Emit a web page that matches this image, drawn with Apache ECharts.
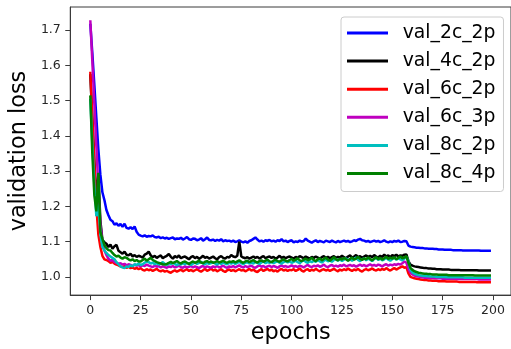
<!DOCTYPE html>
<html>
<head>
<meta charset="utf-8">
<script src="https://cdn.jsdelivr.net/npm/echarts@6/dist/echarts.min.js"></script>
<style>html,body{margin:0;padding:0;background:#fff}#c{width:511px;height:349px}</style>
</head>
<body>
<div id="c"></div>
<script>
const seriesNames = ['val_2c_2p','val_4c_2p','val_6c_2p','val_6c_3p','val_8c_2p','val_8c_4p'];
const xTicks = [0,25,50,75,100,125,150,175,200];
const yTicks = [1.0,1.1,1.2,1.3,1.4,1.5,1.6,1.7];

const val_2c_2p = [
1.718,1.635,1.545,1.452,1.362,1.29,1.24,1.218,1.19,1.175,
1.162,1.158,1.148,1.152,1.145,1.15,1.142,1.151,1.139,1.137,
1.141,1.136,1.143,1.128,1.12,1.117,1.115,1.118,1.114,1.116,
1.115,1.118,1.113,1.112,1.114,1.11,1.112,1.109,1.111,1.108,
1.11,1.112,1.107,1.109,1.108,1.111,1.106,1.109,1.113,1.107,
1.105,1.109,1.108,1.104,1.106,1.11,1.103,1.107,1.112,1.105,
1.104,1.106,1.102,1.105,1.103,1.107,1.101,1.104,1.102,1.103,
1.1,1.103,1.099,1.101,1.104,1.1,1.098,1.101,1.097,1.102,
1.104,1.108,1.112,1.106,1.101,1.103,1.1,1.104,1.102,1.105,
1.101,1.103,1.1,1.104,1.102,1.107,1.101,1.103,1.099,1.102,
1.104,1.098,1.101,1.099,1.103,1.1,1.102,1.109,1.103,1.1,
1.097,1.101,1.104,1.099,1.102,1.1,1.098,1.103,1.101,1.099,
1.103,1.1,1.098,1.102,1.099,1.101,1.103,1.1,1.102,1.099,
1.101,1.104,1.102,1.106,1.108,1.104,1.103,1.1,1.102,1.099,
1.101,1.103,1.1,1.102,1.099,1.101,1.104,1.1,1.098,1.101,
1.099,1.102,1.1,1.103,1.099,1.1,1.102,1.101,1.089,1.086,
1.085,1.084,1.083,1.083,1.082,1.082,1.081,1.081,1.08,1.08,
1.08,1.079,1.079,1.078,1.078,1.078,1.077,1.077,1.077,1.077,
1.076,1.076,1.076,1.076,1.076,1.075,1.075,1.075,1.075,1.075,
1.075,1.075,1.075,1.075,1.074,1.074,1.074,1.074,1.074,1.074
];
const val_4c_2p = [
1.575,1.45,1.33,1.22,1.29,1.16,1.105,1.098,1.094,1.085,
1.092,1.08,1.087,1.091,1.074,1.07,1.066,1.072,1.063,1.061,
1.066,1.058,1.062,1.057,1.06,1.058,1.055,1.063,1.066,1.072,
1.061,1.056,1.06,1.054,1.058,1.061,1.053,1.057,1.06,1.065,
1.057,1.052,1.059,1.055,1.061,1.053,1.056,1.058,1.054,1.05,
1.056,1.059,1.053,1.057,1.051,1.055,1.06,1.054,1.057,1.052,
1.055,1.058,1.053,1.05,1.056,1.059,1.054,1.052,1.057,1.055,
1.062,1.058,1.056,1.06,1.1,1.058,1.055,1.053,1.056,1.052,
1.055,1.058,1.054,1.057,1.052,1.056,1.059,1.053,1.056,1.058,
1.054,1.057,1.052,1.055,1.06,1.054,1.057,1.053,1.056,1.058,
1.055,1.052,1.057,1.054,1.059,1.056,1.053,1.058,1.055,1.052,
1.057,1.054,1.058,1.055,1.052,1.056,1.059,1.054,1.057,1.053,
1.056,1.059,1.054,1.057,1.055,1.06,1.056,1.053,1.058,1.061,
1.055,1.058,1.062,1.056,1.059,1.054,1.058,1.061,1.057,1.06,
1.056,1.062,1.058,1.055,1.06,1.057,1.063,1.058,1.061,1.056,
1.062,1.059,1.063,1.058,1.061,1.06,1.063,1.064,1.045,1.035,
1.032,1.03,1.029,1.028,1.027,1.026,1.025,1.025,1.024,1.024,
1.023,1.023,1.022,1.022,1.022,1.021,1.021,1.021,1.021,1.02,
1.02,1.02,1.02,1.02,1.019,1.019,1.019,1.019,1.019,1.019,
1.019,1.019,1.019,1.018,1.018,1.018,1.018,1.018,1.018,1.018
];
const val_6c_2p = [
1.582,1.45,1.32,1.2,1.12,1.085,1.06,1.05,1.048,1.045,
1.04,1.043,1.038,1.035,1.033,1.03,1.028,1.031,1.026,1.029,
1.025,1.027,1.023,1.026,1.022,1.025,1.02,1.018,1.022,1.019,
1.021,1.017,1.02,1.023,1.018,1.016,1.019,1.015,1.017,1.014,
1.012,1.016,1.019,1.015,1.018,1.021,1.016,1.019,1.022,1.017,
1.02,1.016,1.019,1.022,1.018,1.015,1.019,1.023,1.017,1.02,
1.024,1.018,1.021,1.016,1.019,1.022,1.017,1.014,1.019,1.021,
1.017,1.02,1.016,1.019,1.022,1.018,1.02,1.016,1.019,1.023,
1.018,1.021,1.016,1.014,1.019,1.022,1.017,1.02,1.023,1.018,
1.021,1.016,1.019,1.015,1.02,1.023,1.018,1.021,1.017,1.02,
1.019,1.022,1.017,1.02,1.024,1.018,1.015,1.02,1.022,1.017,
1.021,1.018,1.023,1.019,1.016,1.02,1.022,1.018,1.021,1.017,
1.02,1.023,1.019,1.016,1.021,1.018,1.022,1.019,1.024,1.02,
1.017,1.021,1.019,1.023,1.018,1.015,1.02,1.022,1.019,1.021,
1.024,1.02,1.018,1.022,1.019,1.023,1.02,1.025,1.021,1.018,
1.022,1.025,1.021,1.024,1.027,1.03,1.026,1.028,1.01,1.0,
0.998,0.996,0.995,0.994,0.993,0.992,0.991,0.991,0.99,0.99,
0.989,0.989,0.989,0.988,0.988,0.988,0.988,0.987,0.987,0.987,
0.987,0.987,0.987,0.986,0.986,0.986,0.986,0.986,0.986,0.986,
0.986,0.986,0.985,0.985,0.985,0.985,0.985,0.985,0.985,0.985
];
const val_6c_3p = [
1.728,1.612,1.49,1.37,1.255,1.15,1.1,1.075,1.062,1.052,
1.046,1.048,1.042,1.04,1.037,1.039,1.035,1.037,1.033,1.036,
1.034,1.031,1.035,1.032,1.034,1.03,1.033,1.031,1.035,1.032,
1.03,1.028,1.032,1.029,1.031,1.027,1.03,1.028,1.026,1.03,
1.028,1.031,1.027,1.029,1.032,1.028,1.026,1.03,1.027,1.029,
1.031,1.027,1.03,1.028,1.025,1.029,1.031,1.027,1.03,1.028,
1.026,1.03,1.028,1.031,1.027,1.029,1.032,1.028,1.026,1.03,
1.028,1.031,1.027,1.03,1.033,1.029,1.027,1.031,1.028,1.03,
1.032,1.028,1.026,1.03,1.033,1.029,1.031,1.027,1.03,1.032,
1.028,1.031,1.029,1.026,1.03,1.033,1.029,1.031,1.028,1.03,
1.033,1.029,1.031,1.028,1.032,1.03,1.027,1.031,1.034,1.03,
1.028,1.032,1.03,1.033,1.029,1.031,1.035,1.03,1.028,1.032,
1.034,1.03,1.032,1.029,1.033,1.031,1.035,1.03,1.032,1.034,
1.031,1.033,1.029,1.032,1.035,1.031,1.034,1.03,1.033,1.036,
1.032,1.034,1.031,1.035,1.033,1.03,1.034,1.036,1.032,1.035,
1.033,1.036,1.034,1.037,1.035,1.039,1.044,1.04,1.022,1.012,
1.007,1.004,1.002,1.001,1.0,0.999,0.998,0.998,0.997,0.997,
0.997,0.996,0.996,0.996,0.996,0.995,0.995,0.995,0.995,0.995,
0.995,0.995,0.994,0.994,0.994,0.994,0.994,0.994,0.994,0.994,
0.994,0.994,0.994,0.993,0.993,0.993,0.993,0.993,0.993,0.993
];
const val_8c_2p = [
1.505,1.38,1.262,1.172,1.205,1.12,1.085,1.075,1.068,1.062,
1.058,1.054,1.05,1.042,1.036,1.03,1.027,1.025,1.03,1.028,
1.033,1.03,1.036,1.034,1.038,1.034,1.036,1.04,1.044,1.042,
1.038,1.041,1.036,1.039,1.035,1.038,1.042,1.037,1.034,1.039,
1.036,1.04,1.037,1.033,1.038,1.035,1.039,1.036,1.04,1.037,
1.034,1.038,1.041,1.037,1.04,1.043,1.038,1.036,1.04,1.037,
1.039,1.042,1.038,1.035,1.04,1.037,1.041,1.038,1.036,1.04,
1.038,1.041,1.037,1.04,1.043,1.039,1.036,1.04,1.042,1.038,
1.041,1.038,1.043,1.04,1.037,1.041,1.044,1.039,1.042,1.04,
1.043,1.039,1.042,1.045,1.04,1.038,1.042,1.045,1.041,1.044,
1.04,1.043,1.046,1.042,1.039,1.044,1.047,1.043,1.04,1.045,
1.042,1.046,1.043,1.048,1.044,1.041,1.046,1.049,1.044,1.047,
1.043,1.048,1.051,1.046,1.05,1.045,1.049,1.053,1.047,1.05,
1.046,1.051,1.055,1.048,1.045,1.05,1.053,1.047,1.052,1.049,
1.045,1.051,1.054,1.048,1.052,1.047,1.05,1.055,1.049,1.046,
1.051,1.054,1.049,1.053,1.05,1.047,1.052,1.058,1.045,1.02,
1.013,1.009,1.007,1.005,1.004,1.003,1.003,1.002,1.002,1.001,
1.001,1.001,1.0,1.0,1.0,1.0,1.0,0.999,0.999,0.999,
0.999,0.999,0.999,0.999,0.999,0.999,0.998,0.998,0.998,0.998,
0.998,0.998,0.998,0.998,0.998,0.998,0.998,0.998,0.998,0.998
];
const val_8c_4p = [
1.515,1.35,1.232,1.186,1.295,1.128,1.108,1.09,1.082,1.076,
1.075,1.068,1.062,1.058,1.06,1.055,1.052,1.056,1.054,1.05,
1.047,1.05,1.045,1.048,1.044,1.044,1.048,1.052,1.046,1.05,
1.054,1.048,1.045,1.042,1.04,1.038,1.036,1.035,1.037,1.04,
1.043,1.039,1.042,1.045,1.041,1.038,1.042,1.044,1.04,1.037,
1.041,1.044,1.04,1.043,1.046,1.041,1.039,1.043,1.045,1.041,
1.044,1.04,1.042,1.045,1.041,1.043,1.046,1.042,1.04,1.044,
1.042,1.045,1.041,1.044,1.047,1.043,1.04,1.044,1.046,1.042,
1.045,1.048,1.043,1.041,1.045,1.047,1.043,1.046,1.049,1.044,
1.042,1.046,1.049,1.045,1.043,1.047,1.05,1.046,1.044,1.048,
1.051,1.046,1.049,1.053,1.047,1.045,1.049,1.052,1.047,1.05,
1.054,1.048,1.045,1.05,1.053,1.047,1.051,1.055,1.049,1.046,
1.051,1.056,1.05,1.047,1.052,1.049,1.054,1.05,1.046,1.051,
1.055,1.049,1.052,1.057,1.051,1.048,1.053,1.05,1.055,1.051,
1.047,1.052,1.056,1.05,1.054,1.049,1.053,1.057,1.051,1.055,
1.052,1.056,1.05,1.054,1.058,1.053,1.055,1.059,1.04,1.026,
1.02,1.016,1.014,1.012,1.011,1.01,1.009,1.009,1.008,1.008,
1.007,1.007,1.007,1.006,1.006,1.006,1.006,1.006,1.005,1.005,
1.005,1.005,1.005,1.005,1.005,1.005,1.005,1.005,1.005,1.005,
1.005,1.004,1.004,1.004,1.004,1.004,1.004,1.004,1.004,1.004
];
const seriesValues = [val_2c_2p, val_4c_2p, val_6c_2p, val_6c_3p, val_8c_2p, val_8c_4p];
const colors = ['#0000ff','#000000','#ff0000','#bf00bf','#00bfbf','#008000'];

const FONT = 'DejaVu Sans';
const chart = echarts.init(document.getElementById('c'), null, {renderer: 'canvas'});
const series = seriesNames.map((name, i) => ({
  name: name,
  type: 'line',
  data: seriesValues[i].map((v, e) => [e, v]),
  symbol: 'none',
  showSymbol: false,
  smooth: false,
  animation: false,
  lineStyle: {color: colors[i], width: 2.5},
  itemStyle: {color: colors[i]},
  z: 2 + i
}));

chart.setOption({
  animation: false,
  backgroundColor: '#ffffff',
  grid: {left: 68, top: 7, right: -3, bottom: 52, show: true, borderColor: '#3a3a3a', borderWidth: 1, containLabel: false},
  xAxis: {
    type: 'value', min: -9.95, max: 208.95,
    name: 'epochs', nameLocation: 'middle', nameGap: 23,
    nameTextStyle: {fontFamily: FONT, fontSize: 22.4, color: '#000'},
    axisLine: {show: true, onZero: false, lineStyle: {color: '#3a3a3a', width: 1}},
    axisTick: {show: true, length: 5, lineStyle: {color: '#3a3a3a'}, customValues: xTicks},
    axisLabel: {fontFamily: FONT, fontSize: 12.5, color: '#262626', margin: 9, customValues: xTicks, formatter: v => String(v)},
    splitLine: {show: false}
  },
  yAxis: {
    type: 'value', min: 0.9485, max: 1.7655,
    name: 'validation loss', nameLocation: 'middle', nameGap: 35,
    nameTextStyle: {fontFamily: FONT, fontSize: 22.4, color: '#000'},
    axisLine: {show: true, onZero: false, lineStyle: {color: '#3a3a3a', width: 1}},
    axisTick: {show: true, length: 5, lineStyle: {color: '#3a3a3a'}, customValues: yTicks},
    axisLabel: {fontFamily: FONT, fontSize: 12.5, color: '#262626', margin: 9.5, customValues: yTicks, formatter: v => v.toFixed(1)},
    splitLine: {show: false}
  },
  legend: {
    orient: 'vertical', left: 341, top: 17,
    padding: [6, 8, 8, 6],
    icon: 'rect',
    itemWidth: 41, itemHeight: 3, itemGap: 8.1,
    backgroundColor: 'rgba(255,255,255,0.8)',
    borderColor: '#cccccc', borderWidth: 1, borderRadius: 3,
    itemStyle: {borderWidth: 0},
    textStyle: {fontFamily: FONT, fontSize: 18.8, color: '#000', padding: [0, 0, 0, 9.7], lineHeight: 20},
    data: seriesNames
  },
  series: series
});
</script>
</body>
</html>
